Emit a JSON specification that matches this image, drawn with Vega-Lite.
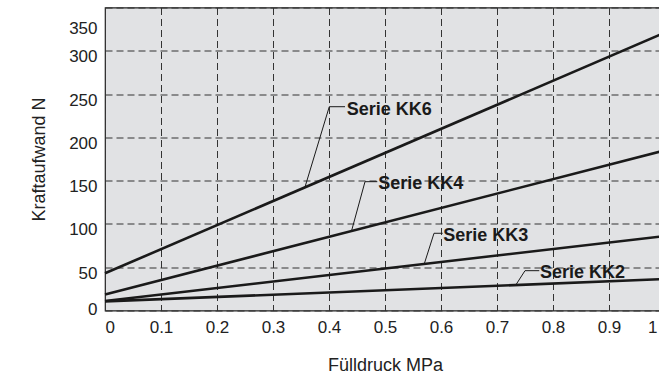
{
  "$schema": "https://vega.github.io/schema/vega-lite/v6.json",
  "width": 560,
  "height": 303,
  "autosize": {"type": "none"},
  "padding": {"left": 105, "top": 7.5, "right": 0, "bottom": 79.5},
  "background": "white",
  "config": {
    "view": {"fill": "#e1e2e4", "stroke": "#222222", "strokeWidth": 1.2},
    "font": "Liberation Sans"
  },
  "datasets": {
    "series": [
      {"serie": "KK6", "druck": 0, "kraft": 43},
      {"serie": "KK6", "druck": 1, "kraft": 321},
      {"serie": "KK4", "druck": 0, "kraft": 18.5},
      {"serie": "KK4", "druck": 1, "kraft": 185},
      {"serie": "KK3", "druck": 0, "kraft": 11},
      {"serie": "KK3", "druck": 1, "kraft": 86},
      {"serie": "KK2", "druck": 0, "kraft": 10.5},
      {"serie": "KK2", "druck": 1, "kraft": 36.3}
    ],
    "leaders": [
      {"serie": "KK6", "k": 1, "druck": 0.4286, "kraft": 235.4},
      {"serie": "KK6", "k": 2, "druck": 0.4005, "kraft": 235.4},
      {"serie": "KK6", "k": 3, "druck": 0.357, "kraft": 142.3},
      {"serie": "KK4", "k": 1, "druck": 0.4863, "kraft": 148.8},
      {"serie": "KK4", "k": 2, "druck": 0.4643, "kraft": 148.8},
      {"serie": "KK4", "k": 3, "druck": 0.4405, "kraft": 92.5},
      {"serie": "KK3", "k": 1, "druck": 0.603, "kraft": 89.2},
      {"serie": "KK3", "k": 2, "druck": 0.5875, "kraft": 89.2},
      {"serie": "KK3", "k": 3, "druck": 0.5702, "kraft": 54},
      {"serie": "KK2", "k": 1, "druck": 0.7755, "kraft": 46},
      {"serie": "KK2", "k": 2, "druck": 0.75, "kraft": 46},
      {"serie": "KK2", "k": 3, "druck": 0.7334, "kraft": 29.3}
    ],
    "labels": [
      {"text": "Serie KK6", "druck": 0.4316, "kraft": 231.8},
      {"text": "Serie KK4", "druck": 0.488, "kraft": 145.8},
      {"text": "Serie KK3", "druck": 0.6041, "kraft": 86.6},
      {"text": "Serie KK2", "druck": 0.7768, "kraft": 43}
    ]
  },
  "encoding": {
    "x": {
      "field": "druck",
      "type": "quantitative",
      "scale": {"domain": [0, 1], "nice": false, "zero": false},
      "axis": {
        "title": "Fülldruck MPa",
        "values": [0, 0.1, 0.2, 0.3, 0.4, 0.5, 0.6, 0.7, 0.8, 0.9, 1],
        "format": "~g",
        "domain": false,
        "ticks": false,
        "labelPadding": 9,
        "labelFontSize": 17,
        "labelColor": "#222222",
        "labelOffset": {"condition": {"test": "datum.value == 1", "value": -8}, "value": 0},
        "titleFontSize": 18,
        "titleFontWeight": "normal",
        "titleColor": "#222222",
        "titlePadding": 21,
        "grid": true,
        "gridDash": [7, 4],
        "gridColor": "#333333",
        "gridWidth": 1
      }
    },
    "y": {
      "field": "kraft",
      "type": "quantitative",
      "scale": {"domain": [0, 350], "nice": false},
      "axis": {
        "title": "Kraftaufwand N",
        "values": [0, 50, 100, 150, 200, 250, 300, 350],
        "format": "d",
        "domain": false,
        "ticks": false,
        "labelPadding": 8,
        "labelFontSize": 17,
        "labelColor": "#222222",
        "labelOffset": {"condition": [{"test": "datum.value == 350", "value": 21}, {"test": "datum.value == 0", "value": -1}], "value": 6},
        "titleFontSize": 18,
        "titleFontWeight": "normal",
        "titleColor": "#222222",
        "titlePadding": 20,
        "grid": true,
        "gridDash": [7, 4],
        "gridColor": "#333333",
        "gridWidth": 1
      }
    }
  },
  "layer": [
    {
      "data": {"name": "series"},
      "mark": {"type": "line", "color": "#1a1a1a", "strokeWidth": 2.6},
      "encoding": {"detail": {"field": "serie"}}
    },
    {
      "data": {"name": "leaders"},
      "mark": {"type": "line", "color": "#1a1a1a", "strokeWidth": 1},
      "encoding": {"detail": {"field": "serie"}, "order": {"field": "k"}}
    },
    {
      "data": {"name": "labels"},
      "mark": {"type": "text", "align": "left", "baseline": "middle", "fontWeight": "bold", "fontSize": 18, "color": "#1a1a1a"},
      "encoding": {"text": {"field": "text"}}
    }
  ]
}
